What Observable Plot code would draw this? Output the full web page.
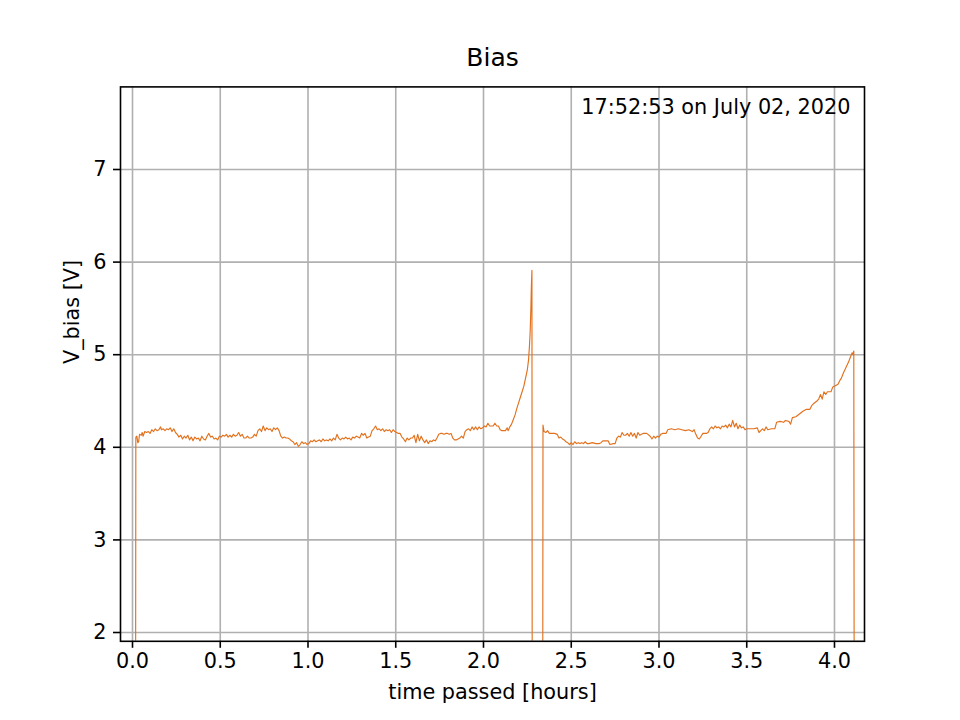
<!DOCTYPE html>
<html>
<head>
<meta charset="utf-8">
<script src="https://cdn.jsdelivr.net/npm/d3@7"></script>
<script src="https://cdn.jsdelivr.net/npm/@observablehq/plot@0.6"></script>
<style>
  html, body { margin: 0; padding: 0; background: white; }
</style>
</head>
<body>
<div id="chart"></div>
<script>
const title = "Bias";
const stamp = "17:52:53 on July 02, 2020";
const xLabel = "time passed [hours]";
const yLabel = "V_bias [V]";
const xTicks = [0, 0.5, 1, 1.5, 2, 2.5, 3, 3.5, 4];
const yTicks = [2, 3, 4, 5, 6, 7];

const hours = [
0.017,0.019,0.025,0.03,0.035,0.04,0.05,0.055,0.06,0.07,0.08,0.09,0.10,0.11,0.12,0.13,0.14,0.15,0.16,0.165,
0.175,0.185,0.195,0.205,0.215,0.225,0.235,0.245,0.255,0.265,0.275,0.285,0.295,0.305,0.315,0.325,0.335,0.345,0.355,0.365,
0.375,0.385,0.395,0.405,0.415,0.425,0.435,0.445,0.455,0.465,0.475,0.485,0.495,0.505,0.515,0.525,0.535,0.545,0.555,0.565,
0.575,0.585,0.595,0.605,0.615,0.625,0.635,0.645,0.655,0.665,0.675,0.685,0.695,0.705,0.715,0.725,0.735,0.745,0.755,0.765,
0.775,0.785,0.795,0.805,0.815,0.825,0.835,0.845,0.855,0.865,0.875,0.885,0.895,0.905,0.915,0.925,0.935,0.945,0.955,0.965,
0.975,0.985,0.995,1.005,1.015,1.025,1.035,1.045,1.055,1.065,1.075,1.085,1.095,1.105,1.115,1.125,1.135,1.145,1.155,1.165,
1.175,1.185,1.195,1.205,1.215,1.225,1.235,1.245,1.255,1.265,1.275,1.285,1.295,1.305,1.315,1.325,1.335,1.345,1.355,1.365,
1.375,1.385,1.395,1.405,1.415,1.425,1.435,1.445,1.455,1.465,1.475,1.485,1.495,1.505,1.515,1.525,1.535,1.545,1.555,1.565,
1.575,1.585,1.595,1.605,1.615,1.625,1.635,1.645,1.655,1.665,1.675,1.685,1.695,1.705,1.715,1.725,1.735,1.745,1.755,1.765,
1.775,1.785,1.795,1.805,1.815,1.825,1.835,1.845,1.855,1.865,1.875,1.885,1.895,1.905,1.915,1.925,1.935,1.945,1.955,1.965,
1.975,1.985,1.995,2.005,2.015,2.025,2.035,2.045,2.055,2.065,2.075,2.085,2.095,2.105,2.115,2.125,2.135,2.14,2.15,2.16,
2.17,2.18,2.19,2.2,2.21,2.22,2.23,2.24,2.25,2.257,2.262,2.266,2.27,2.273,2.276,2.278,2.337,2.339,2.345,2.355,
2.365,2.375,2.39,2.405,2.42,2.43,2.44,2.45,2.46,2.47,2.48,2.49,2.5,2.51,2.52,2.53,2.54,2.55,2.56,2.57,
2.58,2.59,2.6,2.62,2.64,2.66,2.67,2.68,2.69,2.7,2.71,2.72,2.74,2.75,2.76,2.77,2.78,2.79,2.8,2.81,
2.82,2.83,2.84,2.85,2.86,2.87,2.88,2.89,2.9,2.91,2.93,2.95,2.96,2.97,2.98,2.99,3.0,3.01,3.02,3.04,
3.05,3.07,3.09,3.11,3.13,3.15,3.17,3.19,3.2,3.21,3.22,3.23,3.24,3.25,3.27,3.28,3.29,3.3,3.31,3.32,
3.33,3.34,3.35,3.36,3.37,3.38,3.39,3.4,3.41,3.42,3.43,3.44,3.45,3.46,3.47,3.48,3.49,3.5,3.52,3.54,
3.56,3.57,3.58,3.59,3.6,3.61,3.62,3.64,3.66,3.67,3.69,3.71,3.72,3.74,3.75,3.76,3.78,3.8,3.82,3.84,
3.86,3.87,3.88,3.9,3.91,3.92,3.93,3.94,3.95,3.96,3.98,3.99,4.01,4.02,4.03,4.04,4.05,4.06,4.07,4.08,
4.09,4.1,4.105,4.11,4.113
];

const vbias = [
0,4.11,4.12,4.05,4.06,4.14,4.13,4.16,4.12,4.17,4.16,4.17,4.15,4.19,4.17,4.2,4.18,4.19,4.22,4.19,
4.2,4.18,4.2,4.19,4.21,4.17,4.2,4.16,4.14,4.11,4.13,4.09,4.12,4.1,4.13,4.08,4.11,4.07,4.11,4.09,
4.1,4.07,4.12,4.09,4.08,4.12,4.15,4.11,4.12,4.09,4.1,4.08,4.12,4.11,4.13,4.12,4.14,4.11,4.13,4.11,
4.14,4.12,4.13,4.16,4.12,4.14,4.1,4.1,4.12,4.1,4.1,4.11,4.14,4.12,4.18,4.2,4.17,4.23,4.18,4.21,
4.19,4.2,4.17,4.21,4.19,4.21,4.18,4.12,4.1,4.11,4.1,4.1,4.09,4.07,4.06,4.03,4.05,4.01,4.03,4.06,
4.04,4.05,4.03,4.04,4.07,4.06,4.08,4.06,4.07,4.08,4.06,4.09,4.07,4.08,4.07,4.09,4.07,4.1,4.08,4.14,
4.1,4.08,4.1,4.09,4.11,4.09,4.1,4.08,4.11,4.1,4.12,4.11,4.1,4.15,4.13,4.15,4.1,4.11,4.12,4.18,
4.2,4.23,4.19,4.2,4.18,4.2,4.17,4.19,4.18,4.19,4.16,4.19,4.17,4.16,4.15,4.15,4.11,4.09,4.06,4.1,
4.08,4.1,4.1,4.13,4.05,4.14,4.07,4.12,4.08,4.05,4.08,4.04,4.07,4.06,4.08,4.07,4.1,4.14,4.15,4.15,
4.14,4.15,4.15,4.14,4.15,4.1,4.08,4.08,4.09,4.1,4.12,4.1,4.17,4.19,4.2,4.18,4.22,4.19,4.22,4.19,
4.22,4.2,4.21,4.23,4.22,4.26,4.23,4.23,4.23,4.26,4.23,4.23,4.19,4.18,4.18,4.18,4.21,4.18,4.22,4.25,
4.3,4.35,4.42,4.48,4.54,4.6,4.66,4.75,4.84,4.95,5.1,5.25,5.5,5.75,5.91,0,0,4.24,4.17,4.16,
4.18,4.15,4.15,4.15,4.14,4.1,4.11,4.09,4.08,4.06,4.05,4.03,4.05,4.03,4.06,4.04,4.05,4.04,4.05,4.04,
4.06,4.04,4.04,4.05,4.04,4.04,4.05,4.07,4.07,4.07,4.07,4.03,4.04,4.04,4.1,4.12,4.11,4.16,4.13,4.13,
4.15,4.12,4.16,4.12,4.15,4.1,4.16,4.13,4.14,4.15,4.15,4.12,4.09,4.12,4.1,4.12,4.11,4.14,4.15,4.15,
4.19,4.2,4.19,4.2,4.19,4.18,4.19,4.17,4.19,4.14,4.1,4.09,4.12,4.15,4.15,4.16,4.2,4.22,4.2,4.23,
4.21,4.22,4.2,4.23,4.22,4.24,4.21,4.25,4.22,4.29,4.22,4.26,4.2,4.24,4.21,4.22,4.19,4.2,4.2,4.2,
4.21,4.16,4.18,4.2,4.18,4.22,4.19,4.2,4.2,4.27,4.28,4.27,4.29,4.28,4.25,4.32,4.33,4.36,4.39,4.41,
4.41,4.45,4.47,4.5,4.52,4.57,4.52,4.6,4.57,4.6,4.6,4.65,4.67,4.68,4.72,4.75,4.8,4.84,4.88,4.92,
4.97,5.02,5.0,5.04,0
];

const series = hours.map((h, i) => ({h, v: vbias[i]}));

const font = "DejaVu Sans, Liberation Sans, sans-serif";
const chart = Plot.plot({
  width: 960,
  height: 720,
  marginLeft: 120,
  marginRight: 96,
  marginTop: 86.4,
  marginBottom: 79.2,
  style: {fontFamily: font, fontSize: "20.8px", background: "white", color: "black"},
  x: {domain: [-0.0684, 4.171], label: null},
  y: {domain: [1.905, 7.892], label: null},
  marks: [
    Plot.gridX(xTicks, {stroke: "#b0b0b0", strokeOpacity: 1, strokeWidth: 1.6}),
    Plot.gridY(yTicks, {stroke: "#b0b0b0", strokeOpacity: 1, strokeWidth: 1.6}),
    Plot.line(series, {x: "h", y: "v", stroke: "#e2711d", strokeWidth: 1.15, clip: true}),
    Plot.frame({stroke: "black", strokeWidth: 1.6}),
    Plot.axisX(xTicks, {tickSize: 7, tickPadding: 5, strokeWidth: 1.6, tickFormat: d => d.toFixed(1), fontSize: 20.8, label: null}),
    Plot.axisY(yTicks, {tickSize: 7, tickPadding: 7, strokeWidth: 1.6, tickFormat: d => String(d), fontSize: 20.8, label: null}),
    Plot.text([title], {text: d => d, frameAnchor: "top", dy: -21, lineAnchor: "bottom", fontSize: 25, fill: "black"}),
    Plot.text([stamp], {text: d => d, frameAnchor: "top-right", dx: -14, dy: 12, textAnchor: "end", lineAnchor: "top", fontSize: 20.8, fill: "black"}),
    Plot.text([xLabel], {text: d => d, frameAnchor: "bottom", dy: 58, fontSize: 20.8, fill: "black"}),
    Plot.text([yLabel], {text: d => d, frameAnchor: "left", dx: -48, rotate: -90, fontSize: 20.8, fill: "black"})
  ]
});
document.getElementById("chart").appendChild(chart);
</script>
</body>
</html>
